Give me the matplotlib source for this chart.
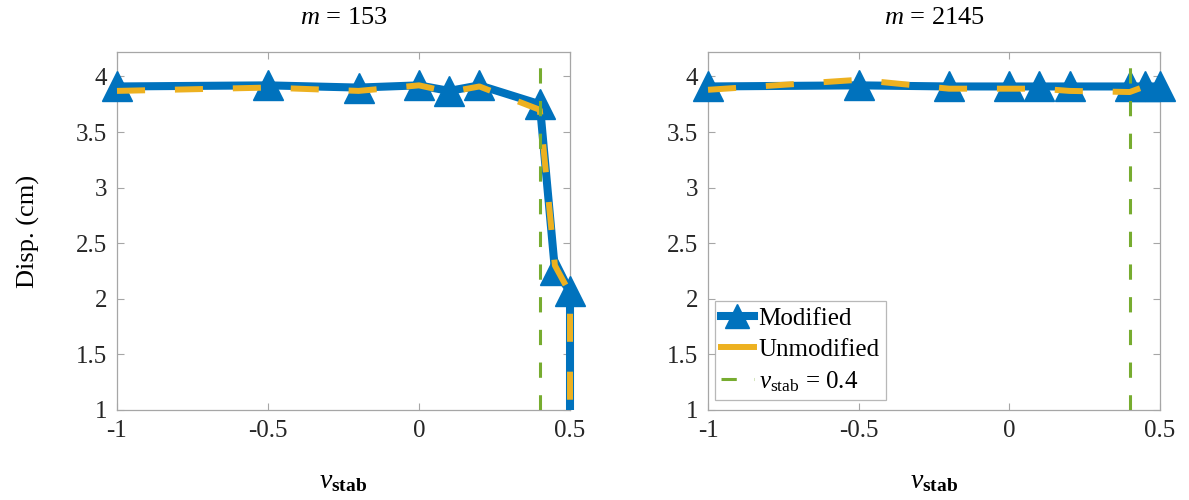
import matplotlib
matplotlib.use("Agg")
import matplotlib.pyplot as plt
from matplotlib.lines import Line2D
from matplotlib.patches import Rectangle

plt.rcParams['font.family'] = ['Liberation Serif', 'DejaVu Serif']
plt.rcParams['mathtext.fontset'] = 'custom'
plt.rcParams['mathtext.rm'] = 'Liberation Serif'
plt.rcParams['mathtext.it'] = 'Liberation Serif:italic'
plt.rcParams['mathtext.bf'] = 'Liberation Serif:bold'

# Stabilization parameter sweep
nu_stab = [-1.0, -0.5, -0.2, 0.0, 0.1, 0.2, 0.4, 0.45, 0.5, 0.5]
nu_ref = 0.4

# m = 153 (last entry: collapse below the plotted range)
disp_mod_153 = [3.91, 3.92, 3.90, 3.92, 3.87, 3.92, 3.75, 2.26, 2.07, 0.5]
disp_unmod_153 = [3.87, 3.90, 3.87, 3.92, 3.86, 3.91, 3.70, 2.30, 2.05, 0.5]

# m = 2145
nu_stab_2145 = [-1.0, -0.5, -0.2, 0.0, 0.1, 0.2, 0.4, 0.45, 0.5]
disp_mod_2145 = [3.91, 3.92, 3.91, 3.91, 3.91, 3.91, 3.91, 3.91, 3.91]
disp_unmod_2145 = [3.88, 3.97, 3.89, 3.89, 3.89, 3.87, 3.86, 3.91, 3.87]

titles = [r'$m$ = 153', r'$m$ = 2145']
x_ticks = [-1, -0.5, 0, 0.5]
x_tick_labels = ['-1', '-0.5', '0', '0.5']
y_ticks = [1, 1.5, 2, 2.5, 3, 3.5, 4]
y_tick_labels = ['1', '1.5', '2', '2.5', '3', '3.5', '4']

BLUE = '#0072BD'
ORANGE = '#EDB120'
GREEN = '#77AC30'
AXIS_GRAY = '#a6a6a6'
TEXT = '#262626'

MOD_LW = 5.8
UNMOD_LW = 4.3
REF_LW = 2.2
MARKER_SIZE = 21
UNMOD_DASH = (0, (4.7, 5.0))
REF_DASH = (0, (5, 5.7))

fig = plt.figure(figsize=(11.89, 5.0), dpi=100)
ax1 = fig.add_axes([0.0984, 0.18, 0.381, 0.716])
ax2 = fig.add_axes([0.5955, 0.18, 0.380, 0.716])

datasets = [
    (ax1, nu_stab, disp_mod_153, disp_unmod_153, titles[0]),
    (ax2, nu_stab_2145, disp_mod_2145, disp_unmod_2145, titles[1]),
]

ylo, yhi = 1, 4.22

for ax, xs, ymod, yunmod, title in datasets:
    # lines are clipped vertically only, so edge segments keep full width
    clip = Rectangle((-0.05, 0), 1.1, 1, transform=ax.transAxes,
                     fill=False, visible=False)
    ax.add_patch(clip)
    mod_line, = ax.plot(xs, ymod, color=BLUE, lw=MOD_LW, zorder=3)
    mod_line.set_clip_path(clip)
    shown = [i for i, v in enumerate(ymod) if ylo <= v <= yhi]
    ax.plot([xs[i] for i in shown], [ymod[i] for i in shown], ls='none',
            marker='^', markersize=MARKER_SIZE, color=BLUE, clip_on=False,
            zorder=3)
    unmod_line, = ax.plot(xs, yunmod, color=ORANGE, lw=UNMOD_LW,
                          ls=UNMOD_DASH, zorder=4)
    unmod_line.set_clip_path(clip)
    ax.axvline(nu_ref, color=GREEN, lw=REF_LW, ls=REF_DASH, zorder=5)
    ax.set_xlim(-1, 0.5)
    ax.set_ylim(ylo, yhi)
    ax.set_xticks(x_ticks)
    ax.set_xticklabels(x_tick_labels)
    ax.set_yticks(y_ticks)
    ax.set_yticklabels(y_tick_labels)
    ax.tick_params(direction='in', length=5, width=0.8, colors=AXIS_GRAY,
                   labelcolor=TEXT, labelsize=18, top=True, right=True,
                   pad=7)
    for sp in ax.spines.values():
        sp.set_color(AXIS_GRAY)
        sp.set_linewidth(0.9)
    ax.set_title(title, fontsize=19, color='black', pad=20)
    ax.set_xlabel(r'$\nu_{\mathbf{stab}}$', fontsize=20, labelpad=20,
                  color='black')

ax1.set_ylabel('Disp. (cm)', fontsize=19, labelpad=26, color='black')

handles = [
    Line2D([], [], color=BLUE, lw=MOD_LW, marker='^', markersize=17),
    Line2D([], [], color=ORANGE, lw=UNMOD_LW),
    Line2D([], [], color=GREEN, lw=REF_LW, ls=REF_DASH),
]
labels = ['Modified', 'Unmodified', r'$\nu_{\rm stab}$ = 0.4']
leg = ax2.legend(handles, labels, loc='lower left',
                 bbox_to_anchor=(0.015, 0.028), borderaxespad=0, fontsize=18,
                 frameon=True, fancybox=False, handlelength=1.3,
                 handletextpad=0.2, borderpad=0.25, labelspacing=0.34)
leg.get_frame().set_edgecolor(AXIS_GRAY)
leg.get_frame().set_linewidth(0.9)

fig.savefig('out.png', dpi=100, facecolor='white')
